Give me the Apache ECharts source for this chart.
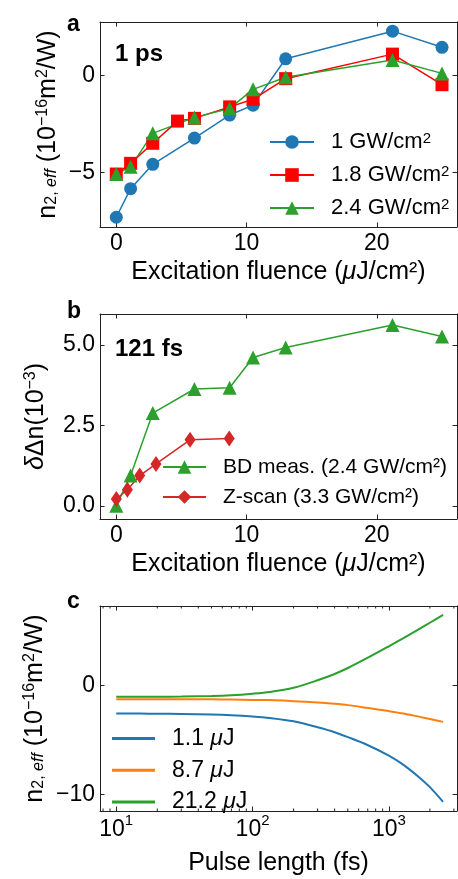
<!DOCTYPE html>
<html>
<head>
<meta charset="utf-8">
<script src="https://cdn.jsdelivr.net/npm/echarts@6/dist/echarts.min.js"></script>
<style>
  html, body { margin: 0; padding: 0; background: #fff; }
  #chart { width: 458px; height: 879px; }
</style>
</head>
<body>
<div id="chart"></div>
<script>
// ---- (a) effective n2 at 1 ps vs excitation fluence ----
const fluence1GW = [0, 1.1, 2.8, 6.0, 8.7, 10.5, 13.0, 21.2, 25.0];
const n2At1GW = [-7.29, -5.82, -4.57, -3.22, -2.04, -1.53, 0.85, 2.27, 1.44];
const fluence18GW = [0, 1.1, 2.8, 4.7, 6.0, 8.7, 10.5, 13.0, 21.2, 25.0];
const n2At18GW = [-5.07, -4.52, -3.49, -2.35, -2.21, -1.62, -1.23, -0.17, 1.09, -0.48];
const fluence24GW = [0, 1.1, 2.8, 6.0, 8.7, 10.5, 13.0, 21.2, 25.0];
const n2At24GW = [-5.07, -4.69, -2.98, -2.16, -1.70, -0.72, -0.10, 0.79, 0.10];

// ---- (b) index change at 121 fs ----
const fluenceBD = [0, 1.1, 2.8, 6.0, 8.7, 10.5, 13.0, 21.2, 25.0];
const deltaNBD = [0.0, 0.94, 2.88, 3.63, 3.67, 4.61, 4.92, 5.62, 5.26];
const fluenceZscan = [0, 0.85, 1.8, 3.05, 5.66, 8.67];
const deltaNZscan = [0.21, 0.5, 0.94, 1.3, 2.05, 2.09];

// ---- (c) effective n2 vs pulse length ----
const pulseLength = [10, 15, 20, 30, 50, 70, 100, 134, 200, 300, 400, 500, 690, 1000, 1280, 1690, 2000, 2500];
const n2At1p1uJ = [-2.58, -2.59, -2.6, -2.62, -2.67, -2.74, -2.86, -3.0, -3.3, -3.85, -4.3, -4.75, -5.45, -6.45, -7.3, -8.5, -9.35, -10.7];
const n2At8p7uJ = [-1.26, -1.26, -1.27, -1.27, -1.28, -1.3, -1.33, -1.35, -1.45, -1.57, -1.69, -1.81, -2.06, -2.36, -2.58, -2.89, -3.08, -3.35];
const n2At21p2uJ = [-1.05, -1.05, -1.04, -1.02, -0.97, -0.9, -0.76, -0.6, -0.22, 0.47, 1.05, 1.6, 2.5, 3.6, 4.35, 5.22, 5.76, 6.48];

// tick positions
const fluenceTicks = [0, 10, 20];
const n2TicksA = [-5, 0];
const deltaNTicks = [0, 2.5, 5];
const n2TicksC = [-10, 0];
const pulseMinorTicks = [8, 9, 20, 30, 40, 50, 60, 70, 80, 90,
  200, 300, 400, 500, 600, 700, 800, 900, 2000, 3000];

const FONT = 'Liberation Sans';
const INK = '#222';
const zip = (xs, ys) => xs.map((x, i) => [x, ys[i]]);
const minus = v => (v < 0 ? '\u2212' + Math.abs(v) : String(v));

const richCommon = {
  m: { fontSize: 25, lineHeight: 25, padding: [4, 0, 3, 0], fontFamily: FONT, color: '#000' },
  mi: { fontSize: 25, lineHeight: 25, padding: [4, 0, 3, 0], fontFamily: FONT, fontStyle: 'italic', color: '#000' },
  sup: { fontSize: 16, lineHeight: 16, verticalAlign: 'top', fontFamily: FONT, color: '#000' },
  sub: { fontSize: 16, lineHeight: 16, verticalAlign: 'bottom', fontFamily: FONT, color: '#000' },
  subi: { fontSize: 16, lineHeight: 16, verticalAlign: 'bottom', fontFamily: FONT, fontStyle: 'italic', color: '#000' }
};

const n2Name = '{m|n}{sub|2, }{subi|eff}{m| (10}{sup|\u221216}{m|m}{sup|2}{m|/W)}';
const fluenceName = '{m|Excitation fluence (}{mi|\u03bc}{m|J/cm\u00b2)}';

const axisLine = { show: true, onZero: false, lineStyle: { color: INK, width: 1 } };
const tick = vals => ({ show: true, inside: true, length: 4.5, customValues: vals, lineStyle: { color: INK, width: 1 } });
const tickLabel = (vals, fmt, margin) => ({
  show: true, customValues: vals, formatter: fmt, margin: margin,
  fontSize: 23, fontFamily: FONT, color: '#000'
});
const hiddenLabel = { show: false };

const grids = [
  { left: 100, top: 22, width: 357, height: 205 },
  { left: 100, top: 314, width: 357, height: 205 },
  { left: 100, top: 606, width: 357, height: 205 }
].map(g => Object.assign({ containLabel: false, outerBoundsMode: 'none' }, g));

const fluenceRange = { min: -1.25, max: 26.15 };
const xAxes = [
  Object.assign({ type: 'value', gridIndex: 0, position: 'bottom', axisLine, axisTick: tick(fluenceTicks),
    axisLabel: tickLabel(fluenceTicks, minus, 5), splitLine: { show: false },
    name: fluenceName, nameLocation: 'middle', nameGap: 32, nameMoveOverlap: false,
    nameTextStyle: { rich: richCommon } }, fluenceRange),
  Object.assign({ type: 'value', gridIndex: 0, position: 'top', axisLine, axisTick: tick(fluenceTicks),
    axisLabel: hiddenLabel, splitLine: { show: false } }, fluenceRange),
  Object.assign({ type: 'value', gridIndex: 1, position: 'bottom', axisLine, axisTick: tick(fluenceTicks),
    axisLabel: tickLabel(fluenceTicks, minus, 5), splitLine: { show: false },
    name: fluenceName, nameLocation: 'middle', nameGap: 32, nameMoveOverlap: false,
    nameTextStyle: { rich: richCommon } }, fluenceRange),
  Object.assign({ type: 'value', gridIndex: 1, position: 'top', axisLine, axisTick: tick(fluenceTicks),
    axisLabel: hiddenLabel, splitLine: { show: false } }, fluenceRange),
  { type: 'log', gridIndex: 2, position: 'bottom', min: 7.6, max: 3162, logBase: 10, axisLine,
    axisTick: { show: true, inside: true, length: 4.5, lineStyle: { color: INK, width: 1 } },
    axisLabel: {
      show: true, margin: 2, fontFamily: FONT, color: '#000',
      formatter: v => {
        const e = Math.log10(v);
        return Math.abs(e - Math.round(e)) < 1e-6 ? '{b|10}{e|' + Math.round(e) + '}' : '';
      },
      rich: {
        b: { fontSize: 23, lineHeight: 23, padding: [10, 0, 0, 0], fontFamily: FONT, color: '#000' },
        e: { fontSize: 15, lineHeight: 15, verticalAlign: 'top', fontFamily: FONT, color: '#000' }
      }
    },
    splitLine: { show: false },
    name: 'Pulse length (fs)', nameLocation: 'middle', nameGap: 40, nameMoveOverlap: false,
    nameTextStyle: { fontSize: 25, fontFamily: FONT, color: '#000' } },
  { type: 'log', gridIndex: 2, position: 'top', min: 7.6, max: 3162, logBase: 10, axisLine,
    axisTick: { show: true, inside: true, length: 4.5, lineStyle: { color: INK, width: 1 } },
    axisLabel: hiddenLabel, splitLine: { show: false } }
];

const yAxes = [
  { type: 'value', gridIndex: 0, position: 'left', min: -7.79, max: 2.74, axisLine, axisTick: tick(n2TicksA),
    axisLabel: tickLabel(n2TicksA, minus, 5), splitLine: { show: false },
    name: n2Name, nameLocation: 'middle', nameGap: 40, nameMoveOverlap: false,
    nameTextStyle: { rich: richCommon } },
  { type: 'value', gridIndex: 0, position: 'right', min: -7.79, max: 2.74, axisLine, axisTick: tick(n2TicksA),
    axisLabel: hiddenLabel, splitLine: { show: false } },
  { type: 'value', gridIndex: 1, position: 'left', min: -0.41, max: 5.96, axisLine, axisTick: tick(deltaNTicks),
    axisLabel: tickLabel(deltaNTicks, v => v.toFixed(1), 5), splitLine: { show: false },
    name: '{mi|\u03b4}{m|\u0394n(10}{sup|\u22123}{m|)}', nameLocation: 'middle', nameGap: 52, nameMoveOverlap: false,
    nameTextStyle: { rich: richCommon } },
  { type: 'value', gridIndex: 1, position: 'right', min: -0.41, max: 5.96, axisLine, axisTick: tick(deltaNTicks),
    axisLabel: hiddenLabel, splitLine: { show: false } },
  { type: 'value', gridIndex: 2, position: 'left', min: -11.54, max: 7.3, axisLine, axisTick: tick(n2TicksC),
    axisLabel: tickLabel(n2TicksC, minus, 5), splitLine: { show: false },
    name: n2Name, nameLocation: 'middle', nameGap: 53, nameMoveOverlap: false,
    nameTextStyle: { rich: richCommon } },
  { type: 'value', gridIndex: 2, position: 'right', min: -11.54, max: 7.3, axisLine, axisTick: tick(n2TicksC),
    axisLabel: hiddenLabel, splitLine: { show: false } }
];

const marked = (name, xs, ys, color, symbol, size, xi, yi) => ({
  name, type: 'line', xAxisIndex: xi, yAxisIndex: yi, data: zip(xs, ys),
  symbol, symbolSize: size, showSymbol: true, smooth: false,
  lineStyle: { color, width: 1.5 }, itemStyle: { color, borderWidth: 0 },
  emphasis: { disabled: true }, animation: false
});
const curve = (name, color, ys) => ({
  name, type: 'line', xAxisIndex: 4, yAxisIndex: 4, symbol: 'none',
  smooth: 0.3, data: zip(pulseLength, ys),
  lineStyle: { color, width: 2 }, itemStyle: { color }, emphasis: { disabled: true }, animation: false
});

const series = [
  marked('1 GW/cm2', fluence1GW, n2At1GW, '#1f77b4', 'circle', 13, 0, 0),
  marked('1.8 GW/cm2', fluence18GW, n2At18GW, '#ff0000', 'rect', 13, 0, 0),
  marked('2.4 GW/cm2', fluence24GW, n2At24GW, '#2ca02c', 'triangle', 14, 0, 0),
  marked('BD meas. (2.4 GW/cm\u00b2)', fluenceBD, deltaNBD, '#2ca02c', 'triangle', 14, 2, 2),
  marked('Z-scan (3.3 GW/cm\u00b2)', fluenceZscan, deltaNZscan, '#d62728', 'diamond', [11, 16], 2, 2),
  curve('1.1 \u03bcJ', '#1f77b4', n2At1p1uJ),
  curve('8.7 \u03bcJ', '#ff7f0e', n2At8p7uJ),
  curve('21.2 \u03bcJ', '#2ca02c', n2At21p2uJ),
  {
    // minor ticks of the logarithmic pulse-length axis (bottom and top edges)
    type: 'custom', xAxisIndex: 4, yAxisIndex: 4, silent: true, animation: false, clip: false,
    data: pulseMinorTicks.map(v => [v, 0]),
    encode: { x: 0, y: 1 },
    renderItem: (params, api) => {
      const v = api.value(0);
      const b = api.coord([v, -11.54]);
      const t = api.coord([v, 7.3]);
      const st = { stroke: INK, lineWidth: 1 };
      return { type: 'group', children: [
        { type: 'line', shape: { x1: b[0], y1: b[1], x2: b[0], y2: b[1] - 2.5 }, style: st },
        { type: 'line', shape: { x1: t[0], y1: t[1], x2: t[0], y2: t[1] + 2.5 }, style: st }
      ] };
    }
  }
];

const legendText = { fontSize: 22, fontFamily: FONT, color: '#000', padding: [0, 0, 0, 12] };
const legends = [
  {
    orient: 'vertical', left: 269, top: 127, padding: 0, itemWidth: 44, itemHeight: 17, itemGap: 7,
    data: ['1 GW/cm2', '1.8 GW/cm2', '2.4 GW/cm2'],
    formatter: n => '{m|' + n.slice(0, -1) + '}{sup|2}',
    textStyle: Object.assign({}, legendText, { rich: {
      m: { fontSize: 22, lineHeight: 22, padding: [4, 0, 0, 0], verticalAlign: 'bottom', fontFamily: FONT, color: '#000' },
      sup: { fontSize: 15, lineHeight: 15, verticalAlign: 'top', fontFamily: FONT, color: '#000' }
    } })
  },
  {
    orient: 'vertical', left: 162, top: 456, padding: 0, itemWidth: 43, itemHeight: 17, itemGap: 8,
    data: ['BD meas. (2.4 GW/cm\u00b2)', 'Z-scan (3.3 GW/cm\u00b2)'],
    textStyle: Object.assign({}, legendText, { fontSize: 21, lineHeight: 22 })
  },
  {
    orient: 'vertical', left: 112, top: 727, padding: 0, itemWidth: 43, itemHeight: 3, itemGap: 8.7,
    icon: 'rect',
    data: ['1.1 \u03bcJ', '8.7 \u03bcJ', '21.2 \u03bcJ'],
    formatter: n => '{m|' + n.split('\u03bc')[0] + '}{mi|\u03bc}{m|J}',
    textStyle: Object.assign({}, legendText, { rich: {
      m: { fontSize: 23, lineHeight: 23, fontFamily: FONT, color: '#000' },
      mi: { fontSize: 23, lineHeight: 23, fontFamily: FONT, fontStyle: 'italic', color: '#000' }
    } })
  }
].map(l => Object.assign({ selectedMode: false, inactiveColor: '#ccc' }, l));

const boldText = (text, x, y, size) => ({
  type: 'text', left: x, top: y, silent: true,
  style: { text, fontSize: size, fontWeight: 'bold', fontFamily: FONT, fill: '#000' }
});

const chart = echarts.init(document.getElementById('chart'), null, { renderer: 'canvas' });
chart.setOption({
  animation: false,
  backgroundColor: '#fff',
  grid: grids,
  xAxis: xAxes,
  yAxis: yAxes,
  legend: legends,
  series: series,
  graphic: [
    boldText('a', 67, 13, 23),
    boldText('b', 67, 300, 23),
    boldText('c', 67, 590, 23),
    boldText('1 ps', 115, 42, 24),
    boldText('121 fs', 115, 337, 24)
  ]
});
</script>
</body>
</html>
